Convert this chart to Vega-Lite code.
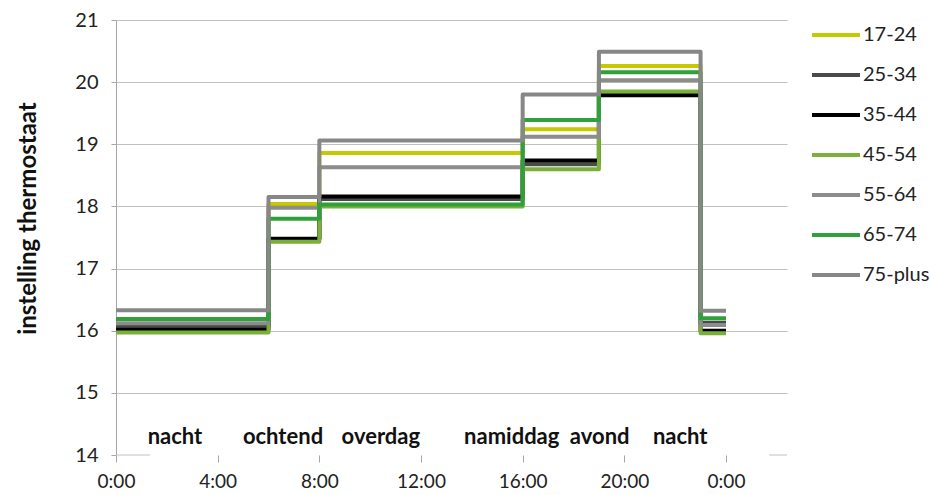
{
  "$schema": "https://vega.github.io/schema/vega-lite/v6.json",
  "width": 671,
  "height": 435,
  "autosize": {"type": "none"},
  "padding": {"left": 116, "top": 20, "right": 143, "bottom": 40},
  "background": "white",
  "config": {
    "font": "Lato",
    "view": {"stroke": null},
    "axis": {"labelColor": "#222222", "titleColor": "#111111"}
  },
  "datasets": {
    "temps": [
      {"leeftijd": "17-24", "uur": 0, "temp": 16.1},
      {"leeftijd": "17-24", "uur": 6, "temp": 18.04},
      {"leeftijd": "17-24", "uur": 8, "temp": 18.86},
      {"leeftijd": "17-24", "uur": 16, "temp": 19.24},
      {"leeftijd": "17-24", "uur": 19, "temp": 20.26},
      {"leeftijd": "17-24", "uur": 23, "temp": 16.1},
      {"leeftijd": "17-24", "uur": 24, "temp": 16.1},
      {"leeftijd": "25-34", "uur": 0, "temp": 16.08},
      {"leeftijd": "25-34", "uur": 6, "temp": 17.47},
      {"leeftijd": "25-34", "uur": 8, "temp": 18.12},
      {"leeftijd": "25-34", "uur": 16, "temp": 18.68},
      {"leeftijd": "25-34", "uur": 19, "temp": 19.82},
      {"leeftijd": "25-34", "uur": 23, "temp": 16.13},
      {"leeftijd": "25-34", "uur": 24, "temp": 16.13},
      {"leeftijd": "35-44", "uur": 0, "temp": 16.02},
      {"leeftijd": "35-44", "uur": 6, "temp": 17.48},
      {"leeftijd": "35-44", "uur": 8, "temp": 18.16},
      {"leeftijd": "35-44", "uur": 16, "temp": 18.74},
      {"leeftijd": "35-44", "uur": 19, "temp": 19.79},
      {"leeftijd": "35-44", "uur": 23, "temp": 16.0},
      {"leeftijd": "35-44", "uur": 24, "temp": 16.0},
      {"leeftijd": "45-54", "uur": 0, "temp": 15.97},
      {"leeftijd": "45-54", "uur": 6, "temp": 17.43},
      {"leeftijd": "45-54", "uur": 8, "temp": 18.0},
      {"leeftijd": "45-54", "uur": 16, "temp": 18.6},
      {"leeftijd": "45-54", "uur": 19, "temp": 19.85},
      {"leeftijd": "45-54", "uur": 23, "temp": 15.96},
      {"leeftijd": "45-54", "uur": 24, "temp": 15.96},
      {"leeftijd": "55-64", "uur": 0, "temp": 16.12},
      {"leeftijd": "55-64", "uur": 6, "temp": 17.98},
      {"leeftijd": "55-64", "uur": 8, "temp": 18.63},
      {"leeftijd": "55-64", "uur": 16, "temp": 19.12},
      {"leeftijd": "55-64", "uur": 19, "temp": 20.03},
      {"leeftijd": "55-64", "uur": 23, "temp": 16.09},
      {"leeftijd": "55-64", "uur": 24, "temp": 16.09},
      {"leeftijd": "65-74", "uur": 0, "temp": 16.19},
      {"leeftijd": "65-74", "uur": 6, "temp": 17.8},
      {"leeftijd": "65-74", "uur": 8, "temp": 18.03},
      {"leeftijd": "65-74", "uur": 16, "temp": 19.39},
      {"leeftijd": "65-74", "uur": 19, "temp": 20.16},
      {"leeftijd": "65-74", "uur": 23, "temp": 16.2},
      {"leeftijd": "65-74", "uur": 24, "temp": 16.2},
      {"leeftijd": "75-plus", "uur": 0, "temp": 16.33},
      {"leeftijd": "75-plus", "uur": 6, "temp": 18.15},
      {"leeftijd": "75-plus", "uur": 8, "temp": 19.06},
      {"leeftijd": "75-plus", "uur": 16, "temp": 19.8},
      {"leeftijd": "75-plus", "uur": 19, "temp": 20.49},
      {"leeftijd": "75-plus", "uur": 23, "temp": 16.32},
      {"leeftijd": "75-plus", "uur": 24, "temp": 16.32}
    ],
    "periods": [
      {"label": "nacht", "uur": 2.32},
      {"label": "ochtend", "uur": 6.57},
      {"label": "overdag", "uur": 10.42},
      {"label": "namiddag", "uur": 15.57},
      {"label": "avond", "uur": 19.03},
      {"label": "nacht", "uur": 22.2}
    ],
    "baseline": [
      {"van": 0, "tot": 1.34},
      {"van": 25.7, "tot": 26.4}
    ]
  },
  "layer": [
    {
      "data": {"name": "temps"},
      "mark": {"type": "line", "interpolate": "step-after", "strokeWidth": 4, "strokeJoin": "round", "strokeCap": "butt"},
      "encoding": {
        "x": {
          "field": "uur", "type": "quantitative",
          "scale": {"domain": [0, 26.4], "nice": false, "zero": false},
          "axis": {
            "values": [0, 4, 8, 12, 16, 20, 24],
            "labelExpr": "(datum.value % 24) + ':00'",
            "grid": false, "domain": false, "ticks": true, "tickSize": 7, "tickColor": "#a6a6a6",
            "labelFontSize": 19, "labelPadding": 10, "labelFlush": false, "title": null
          }
        },
        "y": {
          "field": "temp", "type": "quantitative",
          "scale": {"domain": [14, 21], "nice": false, "zero": false},
          "axis": {
            "values": [14, 15, 16, 17, 18, 19, 20, 21],
            "format": "d",
            "grid": true, "gridColor": "#c0c0c0",
            "gridOpacity": {"condition": {"test": "datum.value == 14", "value": 0}, "value": 1},
            "domainColor": "#a6a6a6", "tickColor": "#a6a6a6", "tickSize": 5,
            "labelFontSize": 20, "labelPadding": 13,
            "title": "instelling thermostaat", "titleFontSize": 24, "titleFontWeight": "bold",
            "titleX": -88, "titleY": 198, "titleAngle": 270, "titleBaseline": "middle", "titleAlign": "center"
          }
        },
        "color": {
          "field": "leeftijd", "type": "nominal",
          "scale": {
            "domain": ["17-24", "25-34", "35-44", "45-54", "55-64", "65-74", "75-plus"],
            "range": ["#c6c800", "#4a4a4a", "#000000", "#7ab03a", "#8c8c8c", "#30a03a", "#878787"]
          },
          "legend": {
            "title": null, "orient": "none", "legendX": 694, "legendY": 5,
            "symbolType": "M-1,0H5", "symbolSize": 256, "symbolStrokeWidth": 4,
            "labelFontSize": 20, "labelOffset": 33, "rowPadding": 20, "padding": 0, "labelColor": "#222222"
          }
        }
      }
    },
    {
      "data": {"name": "baseline"},
      "mark": {"type": "rule", "color": "#c0c0c0", "strokeWidth": 1},
      "encoding": {
        "x": {"field": "van", "type": "quantitative"},
        "x2": {"field": "tot"},
        "y": {"datum": 14, "type": "quantitative"}
      }
    },
    {
      "data": {"name": "periods"},
      "mark": {"type": "text", "fontWeight": "bold", "fontSize": 22, "color": "#111111", "baseline": "middle", "align": "center"},
      "encoding": {
        "x": {"field": "uur", "type": "quantitative"},
        "y": {"datum": 14.29, "type": "quantitative"},
        "text": {"field": "label"}
      }
    }
  ]
}
